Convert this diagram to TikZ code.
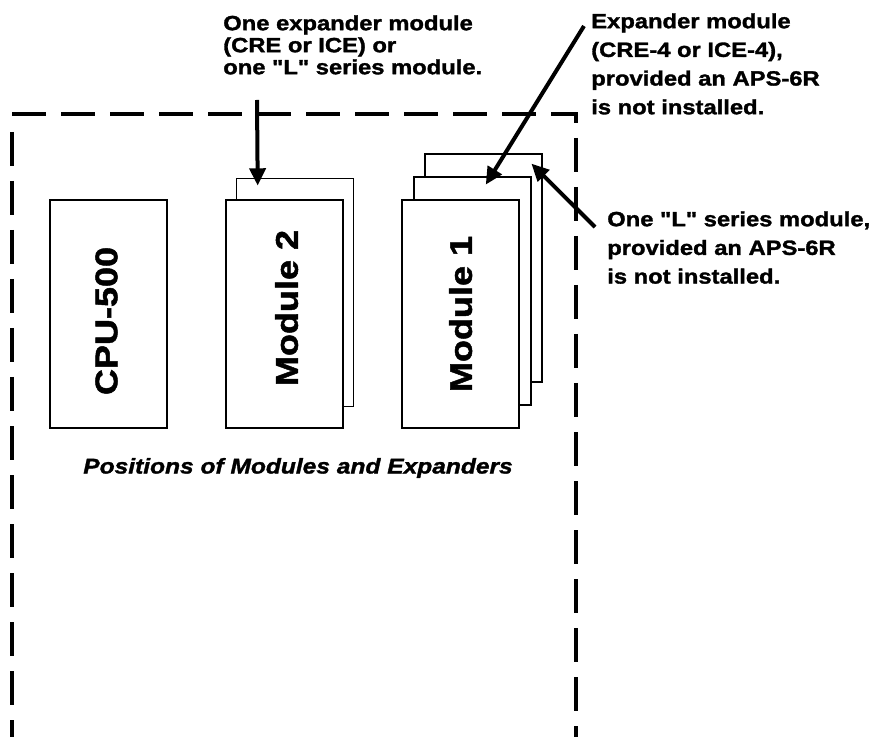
\documentclass[tikz,border=0pt]{standalone}
\usepackage{fontspec}
\newfontfamily\helvwide[FakeStretch=1.15,BoldFeatures={FakeBold=1.5},
  BoldItalicFeatures={FakeBold=1.5}]{Liberation Sans}
\usepackage{tikz}
\usetikzlibrary{arrows.meta,positioning,calc,backgrounds}

\begin{document}
\begin{tikzpicture}[
  x=0.75pt,y=-0.75pt,
  node distance=43pt,
  every node/.style={font=\helvwide\bfseries,align=left,inner sep=0pt},
  card/.style={draw=black,line width=1.3pt,fill=white,
               minimum width=87.75pt,minimum height=171pt},
  tag/.style={rotate=90,align=center,
              font={\helvwide\bfseries\fontsize{23.5}{26}\selectfont}},
  note/.style={anchor=north west,
               font={\helvwide\bfseries\fontsize{15.5}{21.5}\selectfont}},
  fence/.style={line width=3pt,dash pattern=on 25.5pt off 11.25pt},
  pointer/.style={-{Triangle[length=13pt,width=12pt]},line width=3pt}
]
\useasboundingbox (0,0) rectangle (870,737);

\draw[fence] (12,114) -- (576,114) -- (576,737);
\draw[fence] (12,132) -- (12,737);

\node[card] (cpu) at (108.5,314) {};
\node[card,right=of cpu] (mod2) {};
\node[card,right=of mod2] (mod1) {};
\begin{scope}[on background layer]
\node[card] (mod1b) at ($(mod1)+(23,-46)$) {};
\node[card] (mod1m) at ($(mod1)+(11.5,-23)$) {};
\node[card] (mod2b) at ($(mod2)+(10.5,-21.5)$) {};
\end{scope}
\node[tag] (cputext) at ($(cpu)+(-2,7)$) {CPU-500};
\node[tag] (mod2text) at ($(mod2)+(2,-6)$) {Module 2};
\node[tag] (mod1text) at (mod1) {Module 1};

\node[font={\helvwide\bfseries\itshape\fontsize{16}{19}\selectfont}]
  (title) at (298,468) {Positions of Modules and Expanders};

\node[note,font={\helvwide\bfseries\fontsize{15.5}{16.5}\selectfont}]
  (upper) at (223,15) {One expander module\\(CRE or ICE) or\\one "L" series module.};
\node[note] (expander) at (591,13)
  {Expander module\\(CRE-4 or ICE-4),\\provided an APS-6R\\is not installed.};
\node[note] (lseries) at (607,211)
  {One "L" series module,\\provided an APS-6R\\is not installed.};

\coordinate (lead1) at (257,100);
\coordinate (lead2) at (584,26);
\coordinate (lead3) at (595,227);
\draw[pointer] (lead1) -- ($(mod2b.north west)+(22,8)$);
\draw[pointer] (lead2) -- ($(mod1m.north west)+(73,8.5)$);
\draw[pointer] (lead3) -- ($(mod1b.north east)+(-11.6,10.5)$);
\end{tikzpicture}
\end{document}
